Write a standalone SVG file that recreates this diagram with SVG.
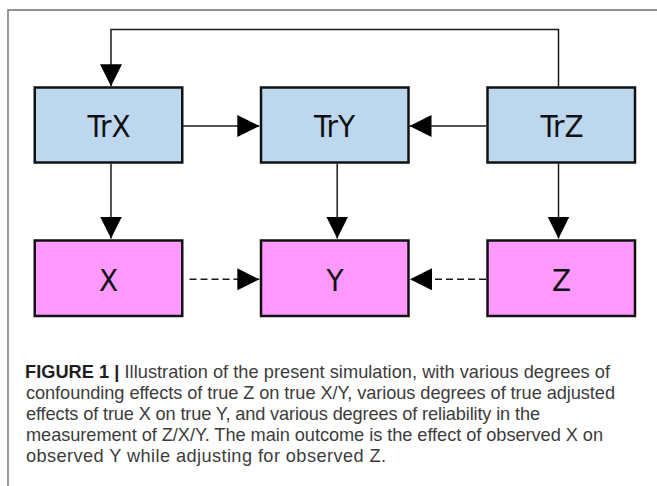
<svg xmlns="http://www.w3.org/2000/svg" width="657" height="486" viewBox="0 0 657 486">
  <style>
    .frame { fill: none; stroke: #6e6e6e; stroke-width: 1.4; }
    .true rect { fill: #bdd7ee; stroke: #111; stroke-width: 2.5; }
    .obs rect { fill: #ff99ff; stroke: #111; stroke-width: 2.5; }
    .lbl { font-family: "DejaVu Sans Condensed", "DejaVu Sans", sans-serif; font-stretch: condensed; font-size: 31px; fill: #111; text-anchor: middle; }
    .edge { fill: none; stroke: #1a1a1a; stroke-width: 1.5; }
    .dash { stroke-dasharray: 7 4; }
    .cap { font-family: "Liberation Sans", Arial, sans-serif; font-size: 18.2px; fill: #3c3c3c; }
    .cap .b { font-weight: bold; fill: #1e1e1e; }
  </style>
  <defs>
    <marker id="head" viewBox="0 0 22 22" refX="22" refY="11" markerWidth="22" markerHeight="22" markerUnits="userSpaceOnUse" orient="auto">
      <path d="M0,0 L22,11 L0,22 Z" fill="#000"/>
    </marker>
  </defs>

  <!-- figure frame -->
  <path class="frame" d="M8,486 V10 H657"/>

  <!-- connectors -->
  <g id="connectors">
    <path class="edge" d="M558.5,86.5 V29.5 H111 V86.3" marker-end="url(#head)"/>
    <path class="edge" d="M183,126 H259.3" marker-end="url(#head)"/>
    <path class="edge" d="M486,126 H409.5" marker-end="url(#head)"/>
    <path class="edge" d="M111,163.5 V238.5" marker-end="url(#head)"/>
    <path class="edge" d="M337.2,163.5 V238.5" marker-end="url(#head)"/>
    <path class="edge" d="M558.5,163.5 V238.5" marker-end="url(#head)"/>
    <path class="edge dash" d="M189.5,279.3 H259.3" marker-end="url(#head)"/>
    <path class="edge dash" d="M486,279.3 H410" marker-end="url(#head)"/>
  </g>

  <!-- true (latent) variables -->
  <g id="TrX" class="true">
    <rect x="34.75" y="87.5" width="147.5" height="75"/>
    <text class="lbl" x="109" y="137">TrX</text>
  </g>
  <g id="TrY" class="true">
    <rect x="261" y="87.5" width="147.5" height="75"/>
    <text class="lbl" x="334.5" y="137">TrY</text>
  </g>
  <g id="TrZ" class="true">
    <rect x="487.5" y="87.5" width="147.5" height="75"/>
    <text class="lbl" x="562" y="137">TrZ</text>
  </g>

  <!-- observed variables -->
  <g id="X" class="obs">
    <rect x="34.75" y="240.5" width="147.5" height="75.5"/>
    <text class="lbl" x="108.5" y="291">X</text>
  </g>
  <g id="Y" class="obs">
    <rect x="261" y="240.5" width="147.5" height="75.5"/>
    <text class="lbl" x="335" y="291">Y</text>
  </g>
  <g id="Z" class="obs">
    <rect x="487.5" y="240.5" width="147.5" height="75.5"/>
    <text class="lbl" x="561.5" y="291">Z</text>
  </g>

  <!-- caption -->
  <g id="caption" class="cap">
    <text x="25" y="378" textLength="585"><tspan class="b">FIGURE 1 |</tspan> Illustration of the present simulation, with various degrees of</text>
    <text x="26" y="399" textLength="589">confounding effects of true Z on true X/Y, various degrees of true adjusted</text>
    <text x="26" y="420" textLength="514">effects of true X on true Y, and various degrees of reliability in the</text>
    <text x="26" y="441" textLength="577">measurement of Z/X/Y. The main outcome is the effect of observed X on</text>
    <text x="26" y="462" textLength="360">observed Y while adjusting for observed Z.</text>
  </g>
</svg>
